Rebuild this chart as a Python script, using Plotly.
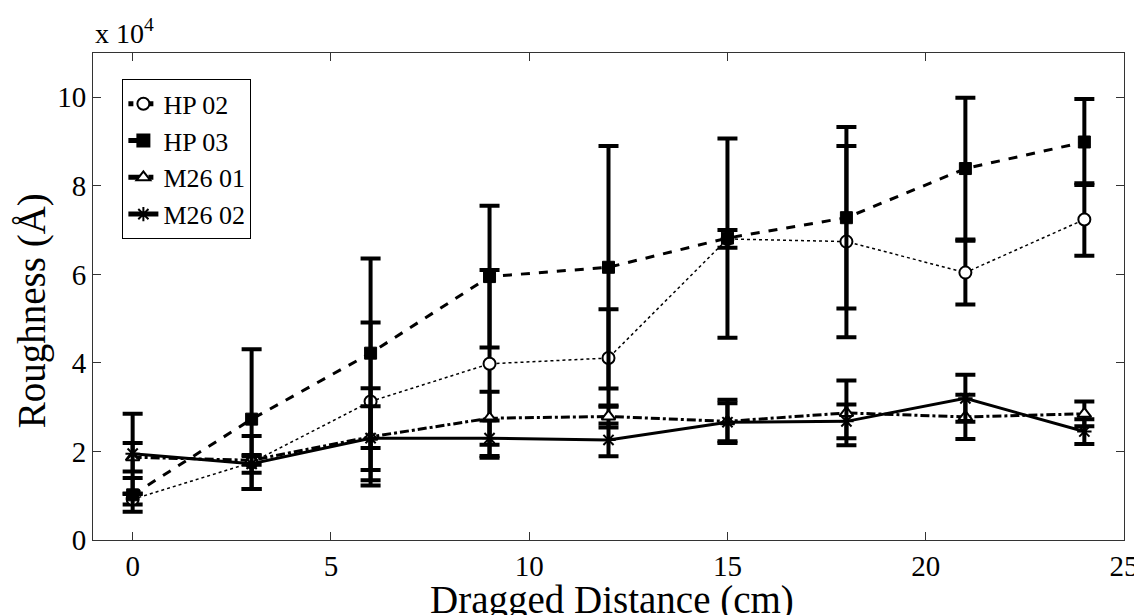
import plotly.graph_objects as go

distance = [0, 3, 6, 9, 12, 15, 18, 21, 24]

hp02 = [0.92, 1.75, 3.13, 3.98, 4.11, 6.80, 6.74, 6.04, 7.24]
hp02_err = [0.12, 0.60, 1.78, 2.12, 1.10, 0.20, 2.16, 0.72, 0.82]

hp03 = [1.02, 2.73, 4.22, 5.95, 6.16, 6.82, 7.28, 8.39, 8.99]
hp03_err = [0.38, 1.58, 2.14, 1.60, 2.74, 2.25, 2.05, 1.60, 0.97]

m2601 = [1.87, 1.80, 2.33, 2.75, 2.79, 2.68, 2.87, 2.78, 2.85]
m2601_err = [0.32, 0.10, 1.10, 0.60, 0.25, 0.49, 0.73, 0.50, 0.28]

m2602 = [1.95, 1.72, 2.30, 2.30, 2.26, 2.66, 2.68, 3.20, 2.45]
m2602_err = [0.90, 0.20, 0.72, 0.40, 0.37, 0.43, 0.38, 0.53, 0.28]

y_ticks = [0, 2, 4, 6, 8, 10]
x_ticks = [0, 5, 10, 15, 20, 25]

FONT = "Liberation Serif, Times New Roman, serif"

series = [
    ("HP 02", hp02, hp02_err, dict(dash="dot", width=1.5),
     dict(symbol="circle", size=12, color="white", line=dict(color="black", width=2))),
    ("HP 03", hp03, hp03_err, dict(dash="dash", width=3),
     dict(symbol="square", size=12, color="black", line=dict(color="black", width=1))),
    ("M26 01", m2601, m2601_err, dict(dash="dashdot", width=3),
     dict(symbol="triangle-up", size=12, color="white", line=dict(color="black", width=2))),
    ("M26 02", m2602, m2602_err, dict(dash="solid", width=3),
     dict(symbol="asterisk-open", size=12, color="black", line=dict(color="black", width=2))),
]

fig = go.Figure()
for name, vals, errs, line, marker in series:
    fig.add_trace(go.Scatter(
        x=distance, y=vals, name=name, mode="lines+markers",
        line=dict(color="black", **line),
        marker=marker,
        error_y=dict(type="data", array=errs, visible=True,
                     color="black", thickness=4, width=10),
    ))

axis_common = dict(
    showline=True, linecolor="#333333", linewidth=1, mirror="ticks",
    ticks="inside", ticklen=8, tickcolor="#333333",
    showgrid=False, zeroline=False, automargin=False,
    tickfont=dict(family=FONT, size=29, color="black"),
)

fig.update_layout(
    width=1134, height=607,
    margin=dict(l=85, r=18, t=45, b=75),
    paper_bgcolor="white", plot_bgcolor="white",
    font=dict(family=FONT, color="black"),
    xaxis=dict(range=[-1, 25], tickvals=x_ticks, ticklabeloverflow="allow", **axis_common),
    yaxis=dict(range=[0, 11], tickvals=y_ticks, **axis_common),
    legend=dict(x=0.0285, y=0.946, xanchor="left", yanchor="top",
                bgcolor="white", bordercolor="black", borderwidth=1,
                font=dict(family=FONT, size=26, color="black"),
                tracegroupgap=0, itemsizing="constant"),
    showlegend=True,
    annotations=[
        dict(text="x 10<sup>4</sup>", xref="paper", yref="paper",
             x=0.0, y=1.005, xanchor="left", yanchor="bottom", showarrow=False,
             font=dict(family=FONT, size=28, color="black")),
        dict(text="Dragged Distance (cm)", xref="paper", yref="paper",
             x=0.503, y=-0.123, xanchor="center", yanchor="middle", showarrow=False,
             font=dict(family=FONT, size=39, color="black")),
        dict(text="Roughness (Å)", xref="paper", yref="paper", textangle=-90,
             x=-0.059, y=0.47, xanchor="center", yanchor="middle", showarrow=False,
             font=dict(family=FONT, size=39, color="black")),
    ],
)

fig.write_html("out.html")
